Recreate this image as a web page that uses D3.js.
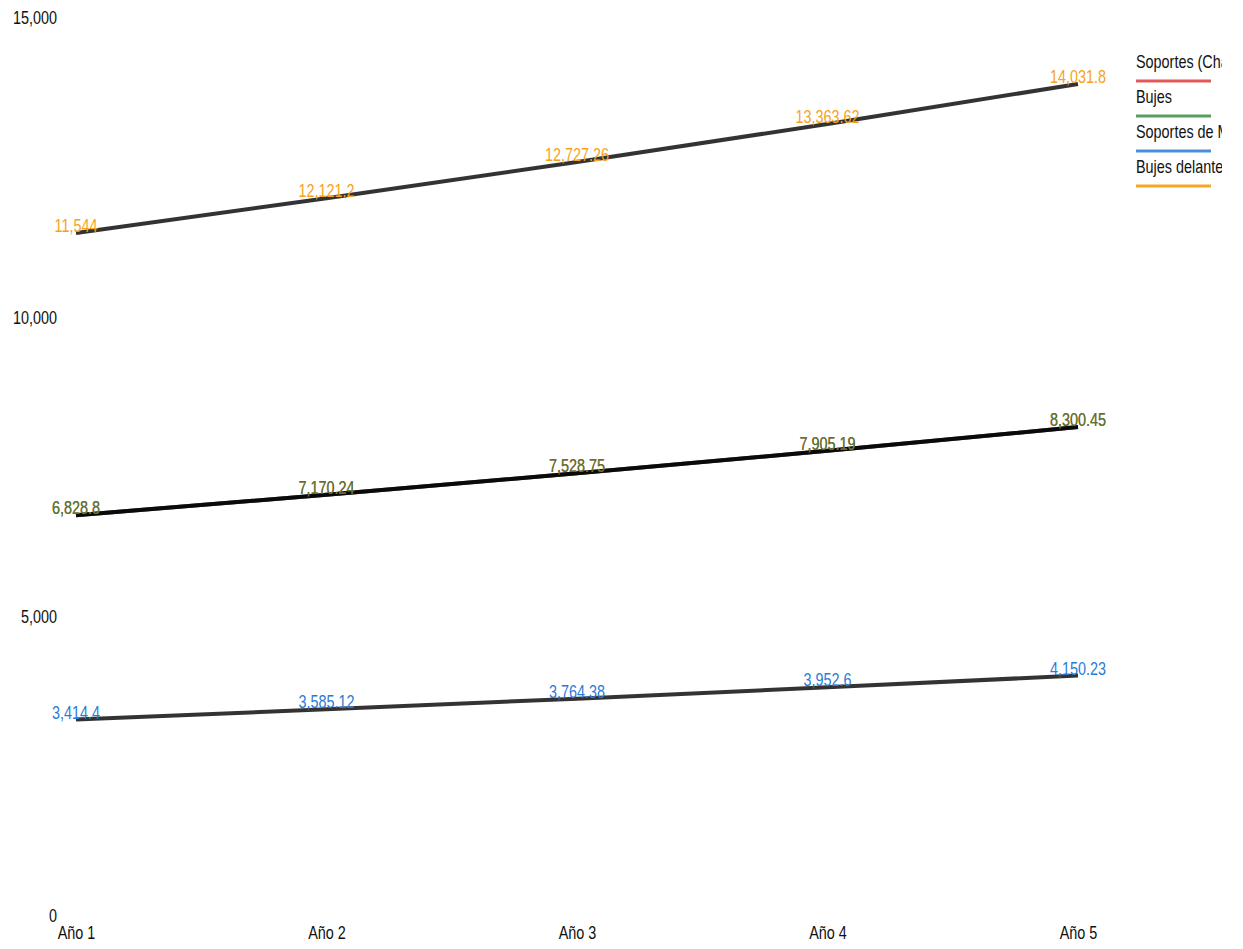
<!DOCTYPE html>
<html>
<head>
<meta charset="utf-8">
<script src="https://cdn.jsdelivr.net/npm/d3@7"></script>
<style>
  body { margin: 0; background: #fff; }
  svg text { font-family: "Liberation Sans", Arial, sans-serif; font-size: 18px; }
</style>
</head>
<body>
<div id="chart"></div>
<script>
// chart values
const years = ["Año 1", "Año 2", "Año 3", "Año 4", "Año 5"];
const seriesNames = ["Soportes (Chasis)", "Bujes", "Soportes de Motor", "Bujes delanteros"];
const soportesChasis = [6828.8, 7170.24, 7528.75, 7905.19, 8300.45];
const bujes = [6828.8, 7170.24, 7528.75, 7905.19, 8300.45];
const soportesMotor = [3414.4, 3585.12, 3764.38, 3952.6, 4150.23];
const bujesDelanteros = [11544, 12121.2, 12727.26, 13363.62, 14031.8];
const yTicks = [0, 5000, 10000, 15000];

const legendColors = ["#e05a5a", "#5a9e5e", "#4a8fdc", "#f7a823"];
const labelColors = ["#d9453f", "#4d7d2c", "#2a7bd8", "#f7a21a"];

const allSeries = [soportesChasis, bujes, soportesMotor, bujesDelanteros];

// narrow look: squeeze text horizontally
const SQ = 0.8;

const W = 1243, H = 949;
const svg = d3.select("#chart").append("svg")
    .attr("width", W)
    .attr("height", H);

const x = d3.scalePoint()
    .domain(years)
    .range([76, 1078]);

const y = d3.scaleLinear()
    .domain([0, 15000])
    .range([924, 26]);

// y axis labels (no line, no ticks)
const yAxis = d3.axisLeft(y)
    .tickValues(yTicks)
    .tickFormat(d3.format(","))
    .tickSize(0)
    .tickPadding(0);

const gy = svg.append("g")
    .attr("transform", "translate(57,0)")
    .call(yAxis);
gy.select(".domain").remove();
gy.selectAll("text")
    .attr("dy", "-0.12em")
    .attr("fill", "#111")
    .attr("transform", `scale(${SQ},1)`)
    .style("font-size", "18px");

// x axis labels
const xAxis = d3.axisBottom(x).tickSize(0).tickPadding(0);
const gx = svg.append("g")
    .attr("transform", "translate(0,926)")
    .call(xAxis);
gx.select(".domain").remove();
gx.selectAll("text")
    .attr("fill", "#111")
    .attr("transform", `scale(${SQ},1)`)
    .style("font-size", "18px");

const line = d3.line()
    .x((d, i) => x(years[i]))
    .y(d => y(d));

// lines
allSeries.forEach(vals => {
    svg.append("path")
        .datum(vals)
        .attr("fill", "none")
        .attr("stroke", "rgba(0,0,0,0.8)")
        .attr("stroke-width", 4)
        .attr("d", line);
});

// value labels
allSeries.forEach((vals, si) => {
    svg.append("g").selectAll("text")
        .data(vals)
        .join("text")
        .attr("transform", (d, i) => `translate(${x(years[i])},${y(d) - 1}) scale(${SQ},1)`)
        .attr("text-anchor", "middle")
        .attr("fill", labelColors[si])
        .text(d => d3.format(",")(d));
});

// legend (names are cut at the legend's right edge)
svg.append("clipPath")
    .attr("id", "legend-clip")
    .append("rect")
    .attr("x", -5).attr("y", 0)
    .attr("width", 91).attr("height", 200);

const legend = svg.append("g").attr("transform", "translate(1136,0)");
const legendText = legend.append("g").attr("clip-path", "url(#legend-clip)");
seriesNames.forEach((name, i) => {
    const ly = 68 + i * 35;
    legendText.append("text")
        .attr("transform", `translate(0,${ly}) scale(${SQ},1)`)
        .attr("fill", "#111")
        .text(name);
    legend.append("line")
        .attr("x1", 0).attr("x2", 75)
        .attr("y1", ly + 13).attr("y2", ly + 13)
        .attr("stroke", legendColors[i])
        .attr("stroke-width", 3);
});
</script>
</body>
</html>
